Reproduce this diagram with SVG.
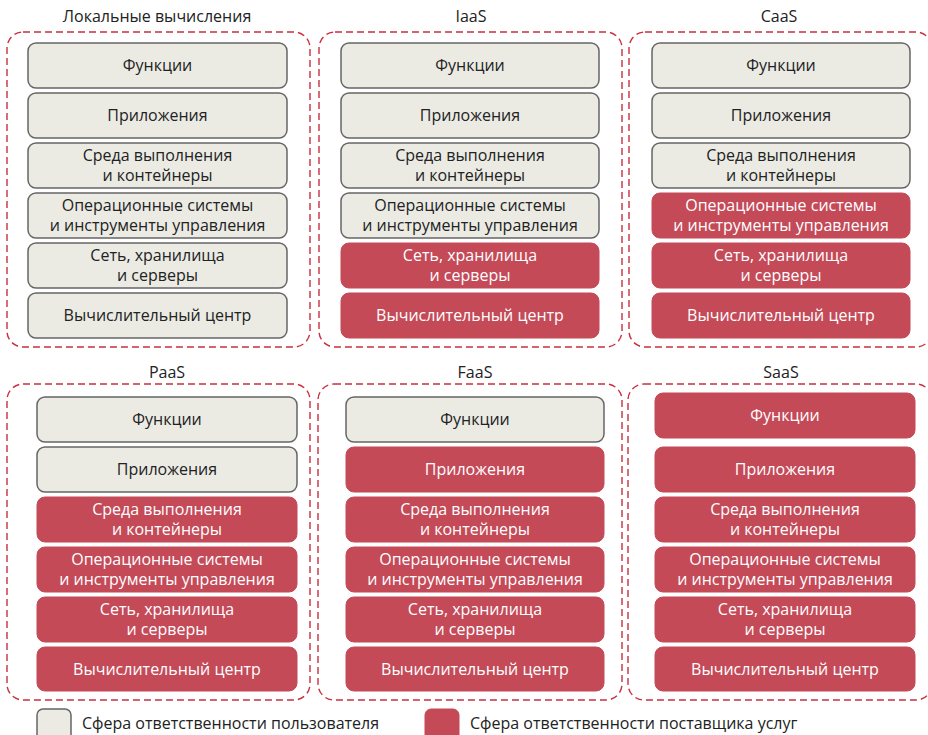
<svg xmlns="http://www.w3.org/2000/svg" width="928" height="735" viewBox="0 0 928 735">
  <style>
    text { font-family: "Open Sans", "Noto Sans", "DejaVu Sans", sans-serif; font-size: 16px; text-anchor: middle; }
    .title { fill: #222; }
    .panel { fill: none; stroke: #c8303f; stroke-width: 1.4; stroke-dasharray: 7 4; }
    .user rect { fill: #ebebe4; stroke: #666; stroke-width: 1.5; }
    .user text { fill: #222; }
    .prov rect { fill: #c44a58; stroke: #c44a58; stroke-width: 1; }
    .prov text { fill: #fff; }
    .legend { text-anchor: start; fill: #222; }
  </style>

  <!-- Panel frames and titles -->
  <g id="panel-local">
    <text class="title" x="157" y="22">Локальные вычисления</text>
    <rect class="panel" x="7" y="32" width="303" height="315" rx="16"/>
  </g>
  <g id="panel-iaas">
    <text class="title" x="471" y="22">IaaS</text>
    <rect class="panel" x="319" y="32" width="303" height="315" rx="16"/>
  </g>
  <g id="panel-caas">
    <text class="title" x="779" y="22">CaaS</text>
    <rect class="panel" x="629" y="32" width="303" height="315" rx="16"/>
  </g>
  <g id="panel-paas">
    <text class="title" x="167" y="378">PaaS</text>
    <rect class="panel" x="7" y="384" width="303" height="316" rx="16"/>
  </g>
  <g id="panel-faas">
    <text class="title" x="475" y="378">FaaS</text>
    <rect class="panel" x="318" y="384" width="304" height="316" rx="16"/>
  </g>
  <g id="panel-saas">
    <text class="title" x="781" y="378">SaaS</text>
    <rect class="panel" x="628" y="384" width="304" height="316" rx="16"/>
  </g>

  <!-- Local -->
  <g id="local-functions" class="user"><rect x="28" y="43" width="259" height="45" rx="8"/><text x="157.5" y="71">Функции</text></g>
  <g id="local-apps" class="user"><rect x="28" y="93" width="259" height="45" rx="8"/><text x="157.5" y="121">Приложения</text></g>
  <g id="local-runtime" class="user"><rect x="28" y="143" width="259" height="45" rx="8"/><text x="157.5" y="160.5">Среда выполнения</text><text x="157.5" y="181">и контейнеры</text></g>
  <g id="local-os" class="user"><rect x="28" y="193" width="259" height="45" rx="8"/><text x="157.5" y="210.5">Операционные системы</text><text x="157.5" y="231">и инструменты управления</text></g>
  <g id="local-net" class="user"><rect x="28" y="243" width="259" height="45" rx="8"/><text x="157.5" y="260.5">Сеть, хранилища</text><text x="157.5" y="281">и серверы</text></g>
  <g id="local-dc" class="user"><rect x="28" y="293" width="259" height="45" rx="8"/><text x="157.5" y="321">Вычислительный центр</text></g>

  <!-- IaaS -->
  <g id="iaas-functions" class="user"><rect x="341" y="43" width="258" height="45" rx="8"/><text x="470" y="71">Функции</text></g>
  <g id="iaas-apps" class="user"><rect x="341" y="93" width="258" height="45" rx="8"/><text x="470" y="121">Приложения</text></g>
  <g id="iaas-runtime" class="user"><rect x="341" y="143" width="258" height="45" rx="8"/><text x="470" y="160.5">Среда выполнения</text><text x="470" y="181">и контейнеры</text></g>
  <g id="iaas-os" class="user"><rect x="341" y="193" width="258" height="45" rx="8"/><text x="470" y="210.5">Операционные системы</text><text x="470" y="231">и инструменты управления</text></g>
  <g id="iaas-net" class="prov"><rect x="341" y="243" width="258" height="45" rx="8"/><text x="470" y="260.5">Сеть, хранилища</text><text x="470" y="281">и серверы</text></g>
  <g id="iaas-dc" class="prov"><rect x="341" y="293" width="258" height="45" rx="8"/><text x="470" y="321">Вычислительный центр</text></g>

  <!-- CaaS -->
  <g id="caas-functions" class="user"><rect x="652" y="43" width="258" height="45" rx="8"/><text x="781" y="71">Функции</text></g>
  <g id="caas-apps" class="user"><rect x="652" y="93" width="258" height="45" rx="8"/><text x="781" y="121">Приложения</text></g>
  <g id="caas-runtime" class="user"><rect x="652" y="143" width="258" height="45" rx="8"/><text x="781" y="160.5">Среда выполнения</text><text x="781" y="181">и контейнеры</text></g>
  <g id="caas-os" class="prov"><rect x="652" y="193" width="258" height="45" rx="8"/><text x="781" y="210.5">Операционные системы</text><text x="781" y="231">и инструменты управления</text></g>
  <g id="caas-net" class="prov"><rect x="652" y="243" width="258" height="45" rx="8"/><text x="781" y="260.5">Сеть, хранилища</text><text x="781" y="281">и серверы</text></g>
  <g id="caas-dc" class="prov"><rect x="652" y="293" width="258" height="45" rx="8"/><text x="781" y="321">Вычислительный центр</text></g>

  <!-- PaaS -->
  <g id="paas-functions" class="user"><rect x="37" y="397" width="260" height="45" rx="8"/><text x="167" y="425">Функции</text></g>
  <g id="paas-apps" class="user"><rect x="37" y="447" width="260" height="45" rx="8"/><text x="167" y="475">Приложения</text></g>
  <g id="paas-runtime" class="prov"><rect x="37" y="497" width="260" height="45" rx="8"/><text x="167" y="514.5">Среда выполнения</text><text x="167" y="535">и контейнеры</text></g>
  <g id="paas-os" class="prov"><rect x="37" y="547" width="260" height="45" rx="8"/><text x="167" y="564.5">Операционные системы</text><text x="167" y="585">и инструменты управления</text></g>
  <g id="paas-net" class="prov"><rect x="37" y="597" width="260" height="45" rx="8"/><text x="167" y="614.5">Сеть, хранилища</text><text x="167" y="635">и серверы</text></g>
  <g id="paas-dc" class="prov"><rect x="37" y="647" width="260" height="44" rx="8"/><text x="167" y="675">Вычислительный центр</text></g>

  <!-- FaaS -->
  <g id="faas-functions" class="user"><rect x="346" y="397" width="258" height="45" rx="8"/><text x="475" y="425">Функции</text></g>
  <g id="faas-apps" class="prov"><rect x="346" y="447" width="258" height="45" rx="8"/><text x="475" y="475">Приложения</text></g>
  <g id="faas-runtime" class="prov"><rect x="346" y="497" width="258" height="45" rx="8"/><text x="475" y="514.5">Среда выполнения</text><text x="475" y="535">и контейнеры</text></g>
  <g id="faas-os" class="prov"><rect x="346" y="547" width="258" height="45" rx="8"/><text x="475" y="564.5">Операционные системы</text><text x="475" y="585">и инструменты управления</text></g>
  <g id="faas-net" class="prov"><rect x="346" y="597" width="258" height="45" rx="8"/><text x="475" y="614.5">Сеть, хранилища</text><text x="475" y="635">и серверы</text></g>
  <g id="faas-dc" class="prov"><rect x="346" y="647" width="258" height="44" rx="8"/><text x="475" y="675">Вычислительный центр</text></g>

  <!-- SaaS -->
  <g id="saas-functions" class="prov"><rect x="655" y="393" width="260" height="45" rx="8"/><text x="785" y="421">Функции</text></g>
  <g id="saas-apps" class="prov"><rect x="655" y="447" width="260" height="45" rx="8"/><text x="785" y="475">Приложения</text></g>
  <g id="saas-runtime" class="prov"><rect x="655" y="497" width="260" height="45" rx="8"/><text x="785" y="514.5">Среда выполнения</text><text x="785" y="535">и контейнеры</text></g>
  <g id="saas-os" class="prov"><rect x="655" y="547" width="260" height="45" rx="8"/><text x="785" y="564.5">Операционные системы</text><text x="785" y="585">и инструменты управления</text></g>
  <g id="saas-net" class="prov"><rect x="655" y="597" width="260" height="45" rx="8"/><text x="785" y="614.5">Сеть, хранилища</text><text x="785" y="635">и серверы</text></g>
  <g id="saas-dc" class="prov"><rect x="655" y="647" width="260" height="44" rx="8"/><text x="785" y="675">Вычислительный центр</text></g>

  <!-- Legend -->
  <g id="legend-user" class="user">
    <rect x="37" y="709" width="34" height="34" rx="6"/>
    <text class="legend" x="82" y="729">Сфера ответственности пользователя</text>
  </g>
  <g id="legend-provider" class="prov">
    <rect x="425" y="709" width="34" height="34" rx="6"/>
    <text class="legend" x="470" y="729" style="fill:#222">Сфера ответственности поставщика услуг</text>
  </g>
</svg>
